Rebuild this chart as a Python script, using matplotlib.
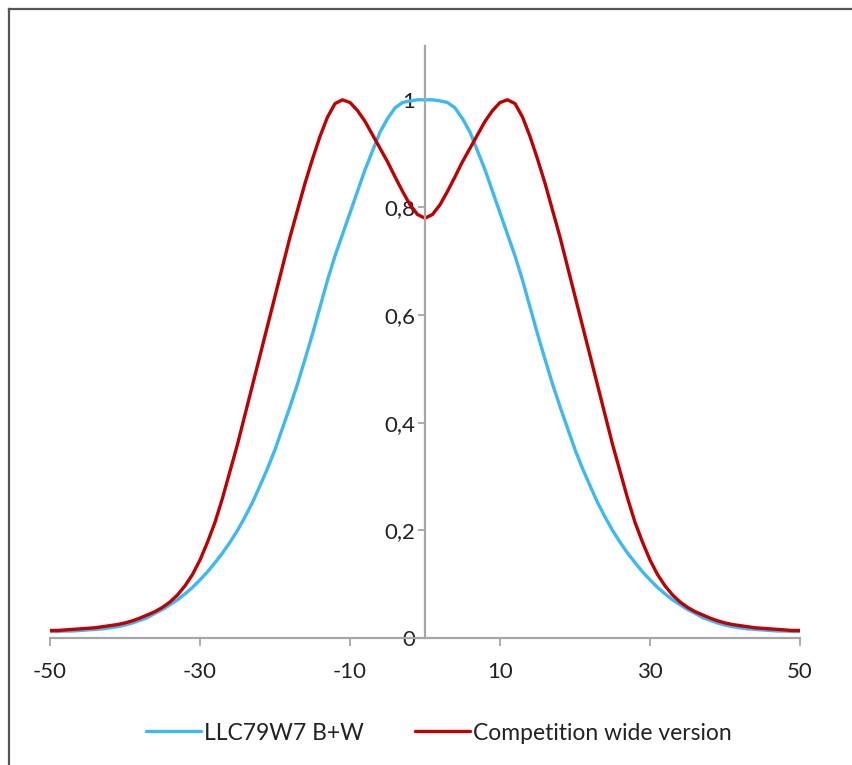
import matplotlib
matplotlib.use("Agg")
import matplotlib.pyplot as plt
from matplotlib.lines import Line2D
from matplotlib.ticker import FuncFormatter

plt.rcParams['font.family'] = ['Lato', 'DejaVu Sans']
plt.rcParams['axes.unicode_minus'] = False

x = list(range(-50, 51))

blue_half = [1.000, 1.000, 0.998, 0.995, 0.985, 0.965, 0.94, 0.905, 0.87, 0.83,
             0.79, 0.75, 0.71, 0.665, 0.615, 0.565, 0.518, 0.472, 0.43, 0.39,
             0.35, 0.315, 0.283, 0.252, 0.225, 0.2, 0.178, 0.158, 0.14, 0.123,
             0.108, 0.094, 0.082, 0.071, 0.062, 0.053, 0.046, 0.038, 0.033, 0.028,
             0.024, 0.021, 0.019, 0.017, 0.016, 0.015, 0.014, 0.013, 0.013, 0.012,
             0.012]
red_half = [0.780, 0.787, 0.805, 0.83, 0.857, 0.885, 0.91, 0.935, 0.96, 0.98,
            0.995, 1.000, 0.993, 0.968, 0.932, 0.89, 0.845, 0.795, 0.745, 0.69,
            0.635, 0.58, 0.525, 0.47, 0.415, 0.36, 0.31, 0.26, 0.215, 0.178,
            0.145, 0.118, 0.097, 0.08, 0.067, 0.057, 0.049, 0.043, 0.037, 0.032,
            0.028, 0.025, 0.023, 0.021, 0.019, 0.018, 0.017, 0.016, 0.015, 0.014,
            0.014]
# full series values for x = -50..50
llc = list(reversed(blue_half[1:])) + blue_half
competition = list(reversed(red_half[1:])) + red_half

x_ticks = [-50, -30, -10, 10, 30, 50]
y_ticks = [0, 0.2, 0.4, 0.6, 0.8, 1.0]
series_names = ["LLC79W7 B+W", "Competition wide version"]

W, H = 852, 765
fig = plt.figure(figsize=(W / 100, H / 100), dpi=100)
ax = fig.add_axes([50 / W, (H - 638) / H, 750 / W, 592 / H])

ax.plot(x, llc, color='#3DB9F2', lw=2.4, label=series_names[0], solid_capstyle='round')
ax.plot(x, competition, color='#C00000', lw=2.4, label=series_names[1], solid_capstyle='round')

ax.set_xlim(-50, 50)
ax.set_ylim(0, 1.1)

axis_col = '#A6A6A6'
for s in ['top', 'right']:
    ax.spines[s].set_visible(False)
ax.spines['left'].set_position(('data', 0))
ax.spines['bottom'].set_position(('data', 0))
for s in ['left', 'bottom']:
    ax.spines[s].set_color(axis_col)
    ax.spines[s].set_linewidth(1.6)

ax.set_xticks(x_ticks)
ax.set_yticks(y_ticks)
ax.yaxis.set_major_formatter(FuncFormatter(lambda v, p: ('%g' % round(v, 1)).replace('.', ',')))
ax.tick_params(axis='x', direction='out', length=6, width=1.3, color=axis_col,
               labelsize=16, labelcolor='#222222', pad=11)
ax.tick_params(axis='y', direction='out', length=5, width=1.3, color=axis_col,
               labelsize=16, labelcolor='#222222', pad=2)
ax.set_facecolor('none')

leg = ax.legend(loc='center', bbox_to_anchor=(439 / W, (H - 733) / H), bbox_transform=fig.transFigure,
                ncol=2, frameon=False, fontsize=16.5, handlelength=2.4, handletextpad=0.15,
                columnspacing=2.2)
for t in leg.get_texts():
    t.set_color('#222222')

# outer frame (top and left visible)
fig.add_artist(Line2D([9 / W, 9 / W], [0, 1 - 9 / H], transform=fig.transFigure, color='#555555', lw=1.6))
fig.add_artist(Line2D([9 / W, 1], [1 - 9 / H, 1 - 9 / H], transform=fig.transFigure, color='#555555', lw=1.6))

fig.savefig('out.png', dpi=100)
